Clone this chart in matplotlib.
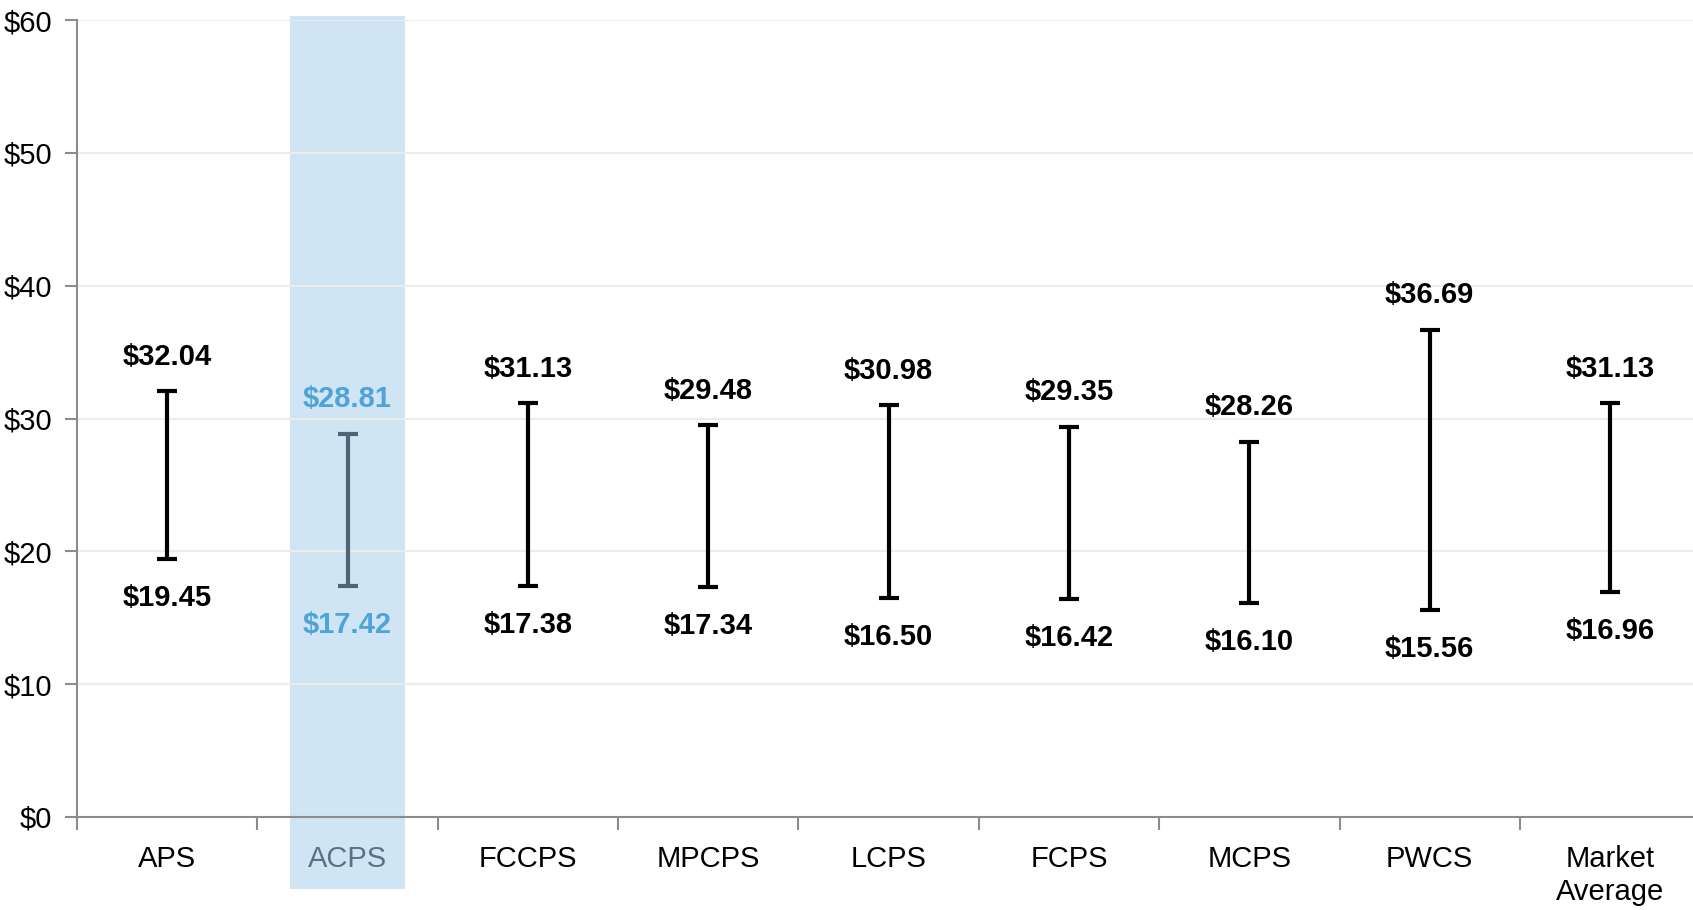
import matplotlib
matplotlib.use("Agg")
import matplotlib.pyplot as plt
import matplotlib.transforms as mtransforms
from matplotlib.patches import Rectangle

# ── Data ──────────────────────────────────────────────────────────────────────
categories = ["APS", "ACPS", "FCCPS", "MPCPS", "LCPS", "FCPS", "MCPS", "PWCS", "Market\nAverage"]
high = [32.04, 28.81, 31.13, 29.48, 30.98, 29.35, 28.26, 36.69, 31.13]
low = [19.45, 17.42, 17.38, 17.34, 16.50, 16.42, 16.10, 15.56, 16.96]
highlight = "ACPS"
yticks = [0, 10, 20, 30, 40, 50, 60]

# ── Styling ───────────────────────────────────────────────────────────────────
plt.rcParams["font.family"] = ["Liberation Sans Narrow", "Liberation Sans", "DejaVu Sans"]
C_AXIS = "#8c8c8c"
C_GRID = "#ececec"
C_BAND = "#cfe5f3"
C_HL_BAR = "#4f6475"
C_HL_TXT = "#4fa3da"
C_HL_TICK = "#587484"

fig = plt.figure(figsize=(16.93, 9.10), dpi=100)
ax = fig.add_axes([0.0455, 0.1022, 0.9545, 0.8758])

x = list(range(len(categories)))
hi_idx = categories.index(highlight)

# highlight band, sticks out above and below the axes
trans = mtransforms.blended_transform_factory(ax.transData, ax.transAxes)
ax.add_patch(Rectangle((hi_idx - 0.32, -0.09), 0.64, 1.095, transform=trans,
                       facecolor=C_BAND, edgecolor="none", clip_on=False, zorder=0))

for i, (h, l) in enumerate(zip(high, low)):
    bar_c = C_HL_BAR if i == hi_idx else "black"
    txt_c = C_HL_TXT if i == hi_idx else "black"
    ax.errorbar([i], [(h + l) / 2], yerr=[[(h - l) / 2], [(h - l) / 2]], fmt="none",
                ecolor=bar_c, elinewidth=3, capsize=7.5, capthick=3, zorder=3)
    ax.annotate(f"${h:.2f}", (i, h), xytext=(0, 15), textcoords="offset points",
                ha="center", va="bottom", fontsize=21, fontweight="bold", color=txt_c)
    ax.annotate(f"${l:.2f}", (i, l), xytext=(0, -18), textcoords="offset points",
                ha="center", va="top", fontsize=21, fontweight="bold", color=txt_c)

ax.set_xlim(-0.5, 8.46)
ax.set_ylim(0, 60)
ax.set_yticks(yticks)
ax.set_yticklabels([f"${v}" for v in yticks])
ax.yaxis.grid(True, color=C_GRID, lw=1.5, zorder=1)
ax.set_axisbelow(True)

ax.set_xticks([i - 0.5 for i in range(len(categories))])
ax.set_xticklabels([])
ax.set_xticks(x, minor=True)
ax.set_xticklabels(categories, minor=True, fontsize=21, linespacing=1.25)
ax.tick_params(axis="x", which="minor", length=0, pad=20)
ax.tick_params(axis="x", which="major", length=9, width=1.5, color=C_AXIS, direction="out")
ax.tick_params(axis="y", length=9, width=1.5, color=C_AXIS, labelsize=21, pad=9)
ax.get_xticklabels(minor=True)[hi_idx].set_color(C_HL_TICK)

for s in ["top", "right"]:
    ax.spines[s].set_visible(False)
for s in ["left", "bottom"]:
    ax.spines[s].set_color(C_AXIS)
    ax.spines[s].set_linewidth(1.5)
    ax.spines[s].set_zorder(2)

fig.savefig("out.png", dpi=100)
